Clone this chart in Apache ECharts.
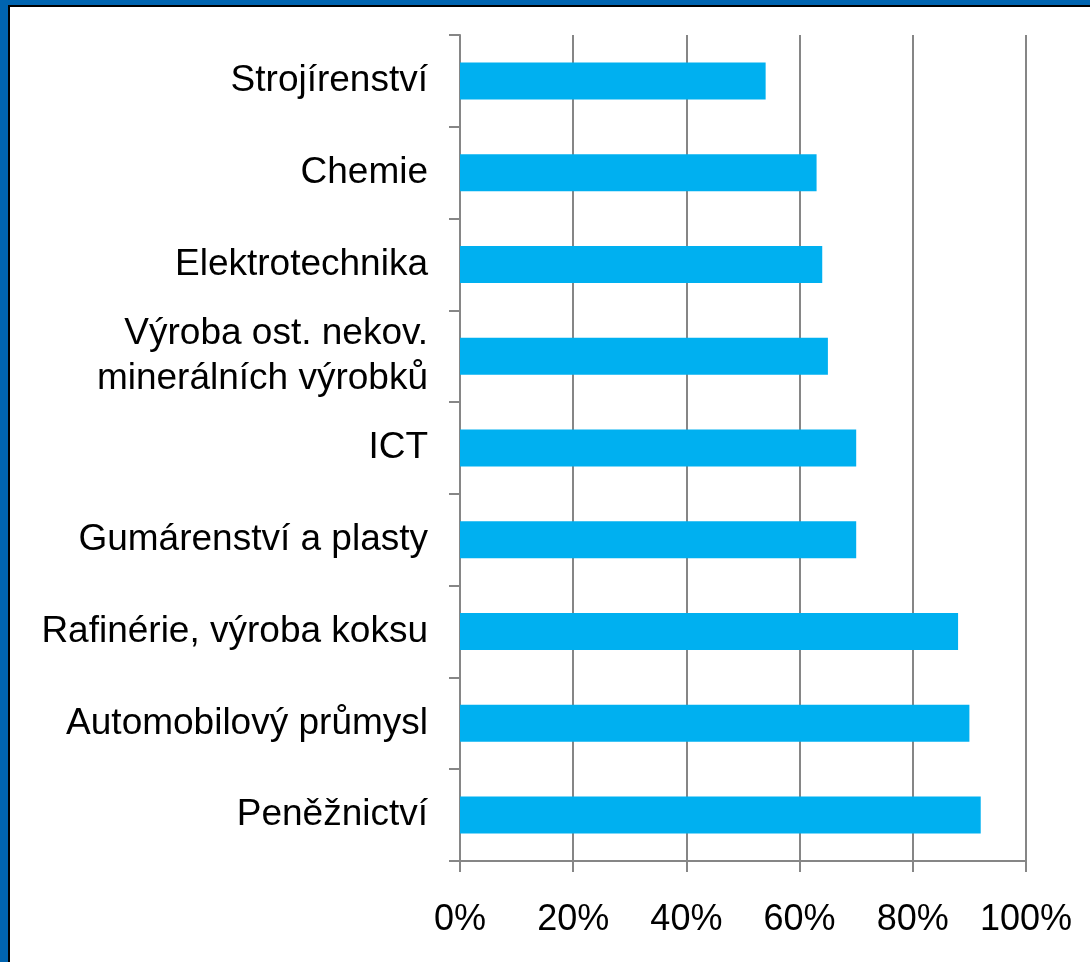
<!DOCTYPE html>
<html>
<head>
<meta charset="utf-8">
<script src="https://cdn.jsdelivr.net/npm/echarts@6/dist/echarts.min.js"></script>
<style>
html,body{margin:0;padding:0;background:#fff;}
#frame{position:absolute;left:0;top:0;width:1090px;height:962px;box-sizing:border-box;border-left:8px solid #0064b0;border-top:5px solid #0064b0;}
#inner{position:absolute;left:8px;top:5px;width:1082px;height:957px;box-sizing:border-box;border-left:2px solid #000;border-top:2px solid #000;}
#chart{position:absolute;left:0;top:0;width:1090px;height:962px;}
</style>
</head>
<body>
<div id="frame"></div>
<div id="inner"></div>
<div id="chart"></div>
<script>
const categories = [
  "Strojírenství",
  "Chemie",
  "Elektrotechnika",
  "Výroba ost. nekov.\nminerálních výrobků",
  "ICT",
  "Gumárenství a plasty",
  "Rafinérie, výroba koksu",
  "Automobilový průmysl",
  "Peněžnictví"
];
const values = [54, 63, 64, 65, 70, 70, 88, 90, 92];
const xTicks = [0, 20, 40, 60, 80, 100];

const chart = echarts.init(document.getElementById('chart'), null, {renderer: 'canvas'});
const axisGray = '#868686';
chart.setOption({
  animation: false,
  backgroundColor: 'transparent',
  grid: {left: 460, right: 64, top: 35, bottom: 101, containLabel: false},
  xAxis: {
    type: 'value',
    min: xTicks[0],
    max: xTicks[xTicks.length - 1],
    interval: 20,
    axisLine: {show: true, lineStyle: {color: axisGray, width: 2}},
    axisTick: {show: true, length: 11, lineStyle: {color: axisGray, width: 2}},
    splitLine: {show: true, lineStyle: {color: axisGray, width: 2}},
    axisLabel: {
      margin: 41,
      color: '#000',
      fontFamily: 'Liberation Sans, Arial, sans-serif',
      fontSize: 36,
      formatter: v => v + '%'
    }
  },
  yAxis: {
    type: 'category',
    data: categories,
    inverse: true,
    axisLine: {show: true, lineStyle: {color: axisGray, width: 2}},
    axisTick: {show: true, length: 11, alignWithLabel: false, lineStyle: {color: axisGray, width: 2}},
    splitLine: {show: false},
    axisLabel: {
      margin: 32,
      color: '#000',
      fontFamily: 'Liberation Sans, Arial, sans-serif',
      fontSize: 37,
      lineHeight: 45,
      align: 'right',
      padding: [5, 0, 0, 0]
    }
  },
  series: [{
    type: 'bar',
    data: values,
    barWidth: 37,
    itemStyle: {color: '#00b0f0'}
  }]
});
</script>
</body>
</html>
